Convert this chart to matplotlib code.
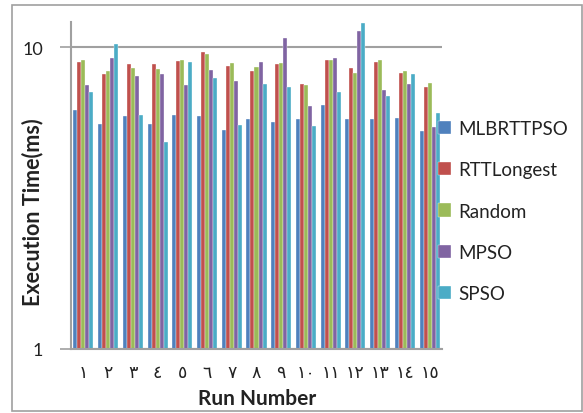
import matplotlib
matplotlib.use("Agg")
import matplotlib.pyplot as plt
import numpy as np
from matplotlib.patches import Rectangle

runs = ["١", "٢", "٣", "٤", "٥", "٦", "٧", "٨", "٩", "١٠", "١١", "١٢", "١٣", "١٤", "١٥"]
series_names = ["MLBRTTPSO", "RTTLongest", "Random", "MPSO", "SPSO"]
mlbrttpso = [6.2, 5.56, 5.91, 5.57, 5.95, 5.92, 5.32, 5.78, 5.64, 5.78, 6.47, 5.78, 5.78, 5.84, 5.28]
rttlongest = [8.96, 8.15, 8.83, 8.83, 9.01, 9.65, 8.71, 8.36, 8.80, 7.55, 9.06, 8.52, 8.96, 8.26, 7.42]
random_ = [9.08, 8.35, 8.58, 8.49, 9.12, 9.52, 8.87, 8.60, 8.87, 7.50, 9.08, 8.22, 9.08, 8.35, 7.62]
mpso = [7.50, 9.24, 8.03, 8.15, 7.52, 8.45, 7.75, 8.94, 10.79, 6.41, 9.22, 11.33, 7.22, 7.54, 5.44]
spso = [7.13, 10.26, 5.97, 4.85, 8.96, 7.91, 5.52, 7.57, 7.37, 5.49, 7.13, 12.04, 6.90, 8.15, 6.07]
colors = ["#4F81BD", "#C0504D", "#9BBB59", "#8064A2", "#4BACC6"]

W, H = 583, 414
fig = plt.figure(figsize=(W / 100, H / 100), dpi=100)
fig.patch.set_facecolor("white")

# chart border
fig.patches.append(Rectangle((12 / W, 1 - 412 / H), (582 - 12) / W, (412 - 6) / H,
                             transform=fig.transFigure, fill=False,
                             edgecolor="#A0A0A0", linewidth=1.2))

left, right, top, bottom = 71, 442, 23, 350
ax = fig.add_axes([left / W, 1 - bottom / H, (right - left) / W, (bottom - top) / H])

x = np.arange(len(runs))
bw = 0.162
data = [mlbrttpso, rttlongest, random_, mpso, spso]
for i, (name, vals, c) in enumerate(zip(series_names, data, colors)):
    ax.bar(x + (i - 2) * bw, vals, width=bw, color=c, label=name,
           edgecolor="white", linewidth=0.25)

ax.set_yscale("log")
ax.set_ylim(1, 12.15)
ax.set_xlim(-0.5, len(runs) - 0.5)
ax.set_yticks([1, 10])
ax.set_yticklabels(["1", "10"])
ax.yaxis.set_minor_locator(matplotlib.ticker.NullLocator())
ax.set_xticks(x)
ax.set_xticklabels(runs, family=["DejaVu Sans"], fontsize=12.5)
ax.tick_params(axis="x", length=0, pad=10)
ax.tick_params(axis="y", length=8, width=1.2, color="#A0A0A0", pad=12, labelsize=13)
for lab in ax.get_yticklabels():
    lab.set_family(["Lato", "DejaVu Sans"])
    lab.set_color("#222222")
for lab in ax.get_xticklabels():
    lab.set_color("#222222")

ax.grid(axis="y", which="major", color="#A0A0A0", linewidth=1.5)
ax.set_axisbelow(True)
for s in ["top", "right"]:
    ax.spines[s].set_visible(False)
for s in ["left", "bottom"]:
    ax.spines[s].set_color("#A0A0A0")
    ax.spines[s].set_linewidth(1.5)

ax.set_ylabel("Execution Time(ms)", fontsize=15.5, fontweight="bold",
              family=["Lato", "DejaVu Sans"], color="#222222", va="center")
ax.yaxis.set_label_coords(33 / W, 1 - 212 / H, transform=fig.transFigure)
ax.set_xlabel("Run Number", fontsize=15, fontweight="bold",
              family=["Lato", "DejaVu Sans"], color="#222222", va="center")
ax.xaxis.set_label_coords(257 / W, 1 - 399 / H, transform=fig.transFigure)

leg = fig.legend(loc="center left", bbox_to_anchor=(438 / W, 1 - 212 / H),
                 frameon=False, prop={"family": ["Lato", "DejaVu Sans"], "size": 13.5},
                 handlelength=0.7, handleheight=0.7, handletextpad=0.4,
                 labelspacing=1.3, borderpad=0, borderaxespad=0)
for t in leg.get_texts():
    t.set_color("#222222")

fig.savefig("out.png", dpi=100, facecolor="white")
